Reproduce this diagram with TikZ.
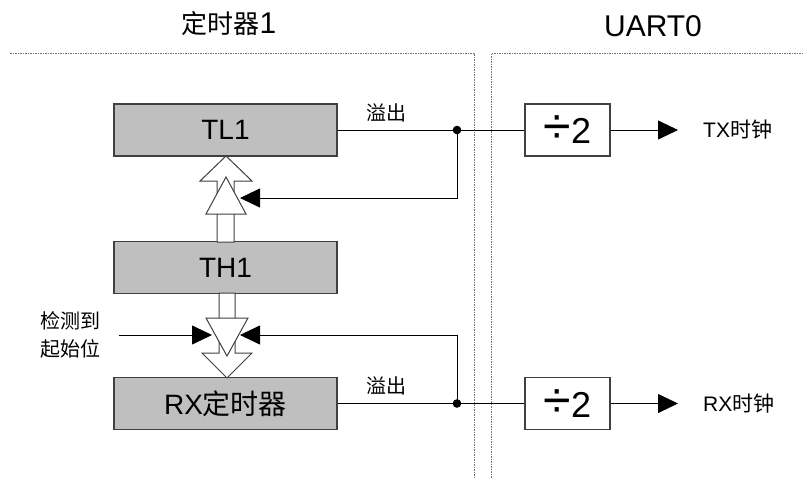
\documentclass[tikz,border=0pt]{standalone}
\usepackage{fontspec}
\setmainfont{Liberation Sans}
\newfontfamily\cjk{Noto Sans CJK SC}
\usetikzlibrary{arrows.meta}
\begin{document}
\begin{tikzpicture}[x=1pt,y=-1pt,
  reg/.style={draw=black!75, line width=1.2pt, fill=black!25, minimum width=223pt, minimum height=52pt, inner sep=0pt, font=\fontsize{28}{30}\selectfont},
  div/.style={draw=black!75, line width=1.2pt, fill=white, minimum width=85pt, minimum height=52pt, inner sep=0pt},
  wire/.style={draw=black, line width=0.8pt},
  bigtip/.style={-{Triangle[length=20pt,width=19pt]}},
  hollow/.style={draw=black!75, line width=1pt, fill=white, line join=miter},
  sep/.style={draw=black!55, line width=0.8pt, dash pattern=on 1.5pt off 1pt},
  lab/.style={font=\cjk\fontsize{20}{22}\selectfont, inner sep=0pt},
  clk/.style={font=\fontsize{21}{23}\selectfont, inner sep=0pt, anchor=west},
  title/.style={font=\fontsize{30}{32}\selectfont, inner sep=0pt},
]
\useasboundingbox (0,0) rectangle (803,479);

% titles
\node[title] (t1) at (229,24) {{\cjk\fontsize{26}{28}\selectfont 定时器}1};
\node[title] (t2) at (653,26) {UART0};

% separators
\coordinate (sL0) at (10,53);
\coordinate (sL1) at (474,53);
\coordinate (sL2) at (474,479);
\coordinate (sR0) at (803,53);
\coordinate (sR1) at (491,53);
\coordinate (sR2) at (491,479);
\draw[sep] (sL0) -- (sL1) -- (sL2);
\draw[sep] (sR0) -- (sR1) -- (sR2);

% registers
\node[reg] (tl1) at (225.5,130) {TL1};
\node[reg] (th1) at (225.5,267.5) {TH1};
\node[reg] (rx) at (225.5,403.5) {RX{\cjk 定时器}};

% dividers
\node[div] (dv1) at (567.5,130) {{\fontsize{50}{50}\selectfont ÷}{\fontsize{36}{36}\selectfont 2}};
\node[div] (dv2) at (567.5,403.5) {{\fontsize{50}{50}\selectfont ÷}{\fontsize{36}{36}\selectfont 2}};

% upper hollow arrow (reload TH1 -> TL1)
\draw[hollow] (226,156) -- (252,181) -- (234,181) -- (234,242) -- (217,242) -- (217,181) -- (200,181) -- cycle;
\draw[hollow] (226,177) -- (246,214) -- (206,214) -- cycle;

% lower hollow arrow (TH1 -> RX timer)
\draw[hollow] (227,378) -- (252,353) -- (235,353) -- (235,293) -- (219,293) -- (219,353) -- (202,353) -- cycle;
\draw[hollow] (227,356) -- (248,318) -- (206,318) -- cycle;

% overflow wiring
\coordinate (j1) at (457,130);
\coordinate (j1b) at (457,198);
\coordinate (f1) at (240,198);
\coordinate (j2) at (457,403.5);
\coordinate (j2b) at (457,335);
\coordinate (f2) at (240,335);
\coordinate (s0) at (119,335);
\coordinate (s1) at (212,335);
\coordinate (o1) at (678,130);
\coordinate (o2) at (678,403.5);

\draw[wire] (tl1.east) -- (dv1.west);
\draw[wire] (rx.east) -- (dv2.west);
\draw[wire,bigtip] (j1) -- (j1b) -- (f1);
\draw[wire,bigtip] (j2) -- (j2b) -- (f2);
\draw[wire,bigtip] (s0) -- (s1);
\draw[wire,bigtip] (dv1.east) -- (o1);
\draw[wire,bigtip] (dv2.east) -- (o2);
\fill[black] (j1) circle (4.3pt);
\fill[black] (j2) circle (4.3pt);

% labels
\node[lab] (ov1) at (386,113) {溢出};
\node[lab] (ov2) at (386,386) {溢出};
\node[lab, anchor=west] (det1) at (40,321) {检测到};
\node[lab, anchor=west] (det2) at (40,349) {起始位};
\node[clk] (txc) at (703,130) {TX{\cjk 时钟}};
\node[clk] (rxc) at (703,403.5) {RX{\cjk 时钟}};
\end{tikzpicture}
\end{document}
